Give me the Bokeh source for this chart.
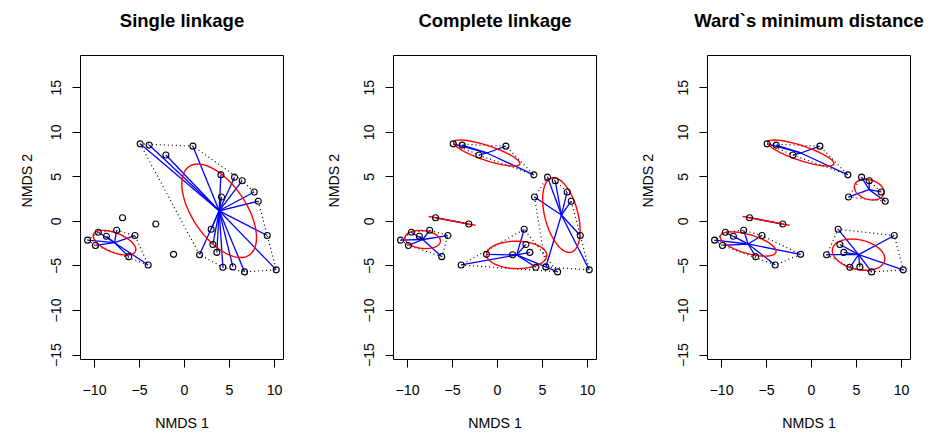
import numpy as np
from bokeh.plotting import figure
from bokeh.layouts import row
from bokeh.models import Range1d, FixedTicker, Title, LinearAxis, ColumnDataSource
from bokeh.embed import file_html
from bokeh.resources import INLINE

# ---- data (NMDS site scores) ----
nmds1 = [-10.77, -9.90, -9.58, -8.68, -7.54, -5.51, -6.20, -4.04,
         -6.89, -3.19, -1.22,
         -4.93, -3.93, -2.07, 0.93, 4.04,
         5.56, 6.41, 4.11, 7.74, 8.19, 9.19, 10.19,
         2.96, 3.15, 3.59, 1.67, 4.26, 5.37, 6.67]
nmds2 = [-2.11, -2.70, -1.22, -1.67, -1.00, -1.59, -3.96, -4.89,
         0.41, -0.30, -3.70,
         8.70, 8.56, 7.44, 8.44, 5.22,
         4.96, 4.56, 2.74, 3.30, 2.26, -1.59, -5.44,
         -0.89, -2.59, -3.48, -3.74, -5.15, -5.11, -5.67]

single_groups = [1, 1, 1, 1, 1, 1, 1, 1,
                 2, 3, 4,
                 5, 5, 5, 5, 5,
                 5, 5, 5, 5, 5, 5, 5,
                 5, 5, 5, 5, 5, 5, 5]
complete_groups = [1, 1, 1, 1, 1, 1, 1, 4,
                   2, 2, 4,
                   3, 3, 3, 3, 3,
                   5, 5, 5, 5, 5, 5, 5,
                   4, 4, 4, 4, 4, 5, 4]
ward_groups = [1, 1, 1, 1, 1, 1, 1, 1,
               2, 2, 1,
               3, 3, 3, 3, 3,
               4, 4, 4, 4, 4, 5, 5,
               5, 5, 5, 5, 5, 5, 5]

titles = ["Single linkage", "Complete linkage", "Ward`s minimum distance"]
x_ticks = [-10, -5, 0, 5, 10]
y_ticks = [-15, -10, -5, 0, 5, 10, 15]
x_label = "NMDS 1"
y_label = "NMDS 2"

# ---- layout constants (pixels) ----
PPU = 9.0
FRAME_W, FRAME_H = 203, 307
X0 = -11.56
Y0 = -15.5
X1 = X0 + FRAME_W / PPU
Y1 = Y0 + FRAME_H / PPU
FONT = "Liberation Sans"


def convex_hull(px, py):
    pts = sorted(set(zip(px, py)))
    if len(pts) < 3:
        return pts

    def cross(o, a, b):
        return (a[0] - o[0]) * (b[1] - o[1]) - (a[1] - o[1]) * (b[0] - o[0])

    lower, upper = [], []
    for q in pts:
        while len(lower) >= 2 and cross(lower[-2], lower[-1], q) <= 0:
            lower.pop()
        lower.append(q)
    for q in reversed(pts):
        while len(upper) >= 2 and cross(upper[-2], upper[-1], q) <= 0:
            upper.pop()
        upper.append(q)
    return lower[:-1] + upper[:-1]


def sd_ellipse(px, py, n=120):
    X = np.column_stack([px, py])
    c = X.mean(axis=0)
    cov = np.cov(X.T)
    lam, vec = np.linalg.eigh(cov)
    lam = np.clip(lam, 0, None)
    t = np.linspace(0, 2 * np.pi, n)
    circ = np.column_stack([np.cos(t), np.sin(t)])
    pts = c + circ @ (vec * np.sqrt(lam)).T
    return list(pts[:, 0]), list(pts[:, 1])


def minus(v):
    return str(v).replace("-", "\u2212")


def make_panel(title, groups, width, b_left, b_right, ylab_standoff):
    p = figure(width=width, height=433, title=None,
               x_range=Range1d(X0, X1), y_range=Range1d(Y0, Y1),
               output_backend="svg", toolbar_location=None,
               min_border_left=b_left, min_border_right=b_right,
               min_border_top=55, min_border_bottom=71,
               background_fill_color="white", border_fill_color="white")
    p.xgrid.grid_line_color = None
    p.ygrid.grid_line_color = None
    p.outline_line_color = "black"
    p.outline_line_width = 1
    p.outline_line_alpha = 1

    for ax, ticks in ((p.xaxis[0], x_ticks), (p.yaxis[0], y_ticks)):
        ax.ticker = FixedTicker(ticks=ticks)
        ax.major_label_overrides = {t: minus(t) for t in ticks}
        ax.axis_line_color = None
        ax.major_tick_out = 8
        ax.major_tick_in = 0
        ax.major_tick_line_color = "black"
        ax.major_tick_line_width = 1
        ax.minor_tick_line_color = None
        ax.major_label_text_font = FONT
        ax.major_label_text_font_size = "14.2px"
        ax.major_label_text_color = "black"
    p.xaxis[0].major_label_standoff = 17
    p.yaxis[0].major_label_standoff = 11
    p.yaxis[0].major_label_orientation = "vertical"

    p.xaxis[0].axis_label = x_label
    p.xaxis[0].axis_label_text_font = FONT
    p.xaxis[0].axis_label_text_font_size = "14.2px"
    p.xaxis[0].axis_label_text_font_style = "normal"
    p.xaxis[0].axis_label_text_color = "black"
    p.xaxis[0].axis_label_standoff = 17

    # panel title as the label of a tick-less top axis
    top_ax = LinearAxis(ticker=FixedTicker(ticks=[]), axis_line_color=None,
                        major_tick_line_color=None, minor_tick_line_color=None,
                        major_tick_out=0, major_tick_in=0, major_label_standoff=0,
                        axis_label=title, axis_label_text_font=FONT,
                        axis_label_text_font_size="18.5px",
                        axis_label_text_font_style="bold",
                        axis_label_text_color="black", axis_label_standoff=25)
    p.add_layout(top_ax, "above")

    # y label as a side title, so it can sit where the reference has it
    p.add_layout(Title(text=y_label, align="left", offset=152,
                       text_font=FONT, text_font_size="14.2px",
                       text_font_style="normal", text_color="black",
                       standoff=ylab_standoff), "left")

    gx = np.array(nmds1)
    gy = np.array(nmds2)
    gg = np.array(groups)

    hull_xs, hull_ys = [], []
    sp = dict(x0=[], y0=[], x1=[], y1=[])
    ell_xs, ell_ys = [], []
    for g in sorted(set(groups)):
        m = gg == g
        px, py = gx[m], gy[m]
        if len(px) < 2:
            continue
        h = convex_hull(list(px), list(py))
        h = h + [h[0]]
        hull_xs.append([q[0] for q in h])
        hull_ys.append([q[1] for q in h])
        cx, cy = px.mean(), py.mean()
        for a, b in zip(px, py):
            sp["x0"].append(cx)
            sp["y0"].append(cy)
            sp["x1"].append(a)
            sp["y1"].append(b)
        ex, ey = sd_ellipse(px, py)
        ell_xs.append(ex)
        ell_ys.append(ey)

    p.multi_line(hull_xs, hull_ys, line_color="black", line_width=1.2,
                 line_dash="1 3")
    p.segment(x0="x0", y0="y0", x1="x1", y1="y1", source=ColumnDataSource(sp),
              line_color="#0000FF", line_width=1.3)
    p.multi_line(ell_xs, ell_ys, line_color="#FF0000", line_width=1.4)
    p.scatter(nmds1, nmds2, marker="circle", size=6, fill_color=None,
              line_color="black", line_width=1.1)
    return p


p1 = make_panel(titles[0], single_groups, 284, 80, 1, 28)
p2 = make_panel(titles[1], complete_groups, 313, 109, 1, 39)
p3 = make_panel(titles[2], ward_groups, 329, 110, 16, 39)

layout = row(p1, p2, p3, spacing=0)
open("out.html", "w").write(file_html(layout, INLINE))
